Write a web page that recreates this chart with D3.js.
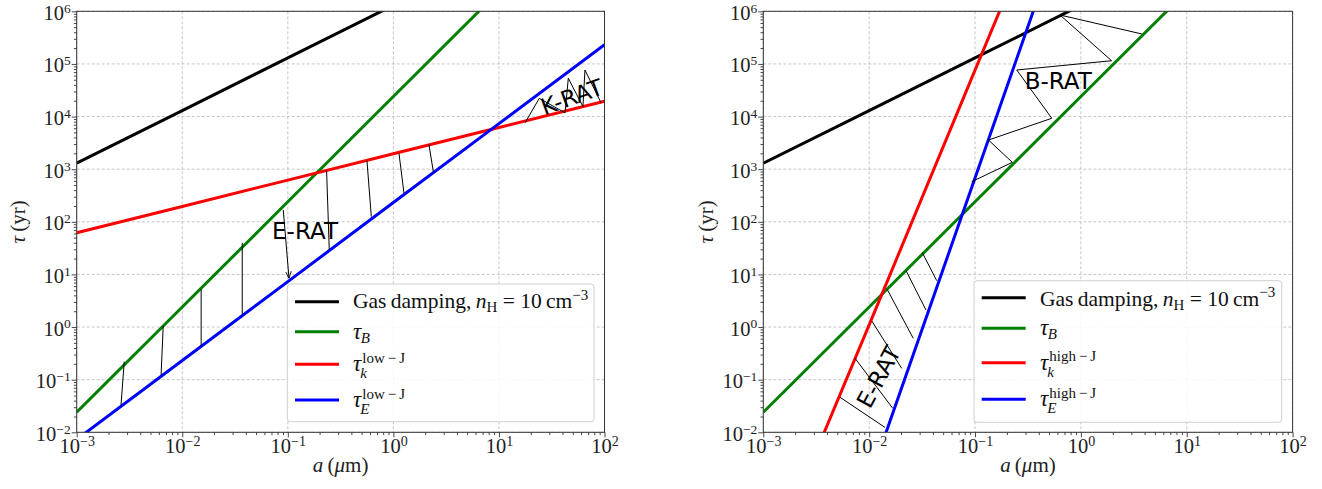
<!DOCTYPE html>
<html><head><meta charset="utf-8">
<script src="https://cdn.jsdelivr.net/npm/d3@7"></script>
<style>body{margin:0;background:#fff}</style>
</head><body><svg id="c" width="1322" height="489"></svg>
<script>
// ---------------- data ----------------
const xMajor = [1e-3, 1e-2, 1e-1, 1e0, 1e1, 1e2];
const xExp   = ['−3', '−2', '−1', '0', '1', '2'];
const yMajor = [1e-2, 1e-1, 1e0, 1e1, 1e2, 1e3, 1e4, 1e5, 1e6];
const yExp   = ['−2', '−1', '0', '1', '2', '3', '4', '5', '6'];

// grain sizes (um) at which the curves are sampled
const aLow  = [1e-3, 1e-2, 1e-1, 1, 10, 100];
const aHigh = [1e-3, 1e-2, 1e-1, 1];

// timescales (yr)
const gasTau   = [1.3e3, 1.3e4, 1.3e5, 1.3e6, 1.3e7, 1.3e8];
const tauB     = [2.4e-2, 2.4, 2.4e2, 2.4e4, 2.4e6, 2.4e8];
const tauKLow  = [62, 196, 620, 1960, 6200, 19600];
const tauELow  = [7.3e-3, 0.232, 7.3, 232, 7340, 2.32e5];
const tauKHigh = [1.7e-5, 1.1, 7.6e4, 5.1e9];
const tauEHigh = [2.0e-9, 1.2e-3, 680, 3.9e8];

// annotation strokes [a1, tau1, a2, tau2]
const eRatLeft = [
  [2.82e-3, 0.22, 2.63e-3, 0.033],
  [6.6e-3, 1.05, 6.3e-3, 0.123],
  [1.51e-2, 5.2, 1.51e-2, 0.44],
  [3.7e-2, 40, 3.7e-2, 1.7],
  [0.0906, 167, 0.1026, 8.4],
  [0.233, 935, 0.247, 29],
  [0.562, 1450, 0.618, 125],
  [1.13, 2000, 1.26, 348],
  [2.17, 2970, 2.39, 895]
];
const kRatLeft = [[17.7, 7640], [24.1, 22200], [42.3, 11800], [45.4, 53300], [62.5, 15500], [65.3, 76700], [92.7, 18300]];
const bRatRight = [[3.76, 3.71e5], [0.635, 8.5e5], [1.95, 1.15e5], [0.248, 7.67e4], [0.531, 9270], [0.134, 3580], [0.225, 1350], [0.0931, 578]];
const eRatRight = [
  [5.31e-3, 0.0462, 1.41e-2, 0.0124],
  [7.35e-3, 0.255, 1.67e-2, 0.0286],
  [1.06e-2, 1.30, 2.03e-2, 0.164],
  [1.48e-2, 5.2, 2.61e-2, 0.61],
  [2.23e-2, 11.8, 3.44e-2, 2.11],
  [3.18e-2, 25.9, 4.35e-2, 7.6]
];

const supLow = 'low\u2009−\u2009J';
const supHigh = 'high\u2009−\u2009J';

// ---------------- drawing ----------------
const svg = d3.select('#c');
const SERIF = "'Liberation Serif','DejaVu Serif',serif";
const SANS = "'DejaVu Sans',sans-serif";
const TOP = 11.3, BOT = 432.3;

const defs = svg.append('defs');
defs.append('marker').attr('id', 'arr').attr('viewBox', '0 0 10 10').attr('refX', 10).attr('refY', 5)
  .attr('markerWidth', 7).attr('markerHeight', 7).attr('orient', 'auto-start-reverse').attr('markerUnits', 'userSpaceOnUse')
  .append('path').attr('d', 'M0,1 L10,5 L0,9').attr('fill', 'none').attr('stroke', '#000').attr('stroke-width', 1.2);

function minorTicks(lo, hi) {
  const out = [];
  for (let k = lo; k < hi; k++) for (let m = 2; m <= 9; m++) out.push(m * Math.pow(10, k));
  return out;
}

function panel(cfg) {
  const x = d3.scaleLog().domain([1e-3, 1e2]).range([cfg.L, cfg.R]);
  const y = d3.scaleLog().domain([1e-2, 1e6]).range([BOT, TOP]);
  const g = svg.append('g');
  const cid = 'clip' + cfg.id;
  defs.append('clipPath').attr('id', cid).append('rect')
    .attr('x', cfg.L).attr('y', TOP).attr('width', cfg.R - cfg.L).attr('height', BOT - TOP);

  // grid
  const grid = g.append('g').attr('stroke', '#b8b8b8').attr('stroke-width', 0.8).attr('stroke-dasharray', '3,2');
  grid.selectAll('.gx').data(xMajor).join('line').attr('x1', d => x(d)).attr('x2', d => x(d)).attr('y1', TOP).attr('y2', BOT);
  grid.selectAll('.gy').data(yMajor).join('line').attr('y1', d => y(d)).attr('y2', d => y(d)).attr('x1', cfg.L).attr('x2', cfg.R);

  // axes
  const axCol = '#333';
  const bx = g.append('g').attr('transform', `translate(0,${BOT})`)
    .call(d3.axisBottom(x).tickValues(xMajor).tickSize(5).tickFormat(''));
  const bxm = g.append('g').attr('transform', `translate(0,${BOT})`)
    .call(d3.axisBottom(x).tickValues(minorTicks(-3, 2)).tickSize(2.8).tickFormat(''));
  const ly = g.append('g').attr('transform', `translate(${cfg.L},0)`)
    .call(d3.axisLeft(y).tickValues(yMajor).tickSize(5).tickFormat(''));
  const lym = g.append('g').attr('transform', `translate(${cfg.L},0)`)
    .call(d3.axisLeft(y).tickValues(minorTicks(-2, 6)).tickSize(2.8).tickFormat(''));
  [bx, bxm, ly, lym].forEach(a => {
    a.select('.domain').remove();
    a.selectAll('.tick text').remove();
    a.selectAll('.tick line').attr('stroke', axCol).attr('stroke-width', 0.9);
  });
  bx.selectAll('.tick').each(function (d, i) {
    const t = d3.select(this).append('text').attr('y', 21).attr('text-anchor', 'middle')
      .attr('font-family', SERIF).attr('font-size', 20.5).attr('fill', '#222');
    t.append('tspan').text('10');
    t.append('tspan').attr('dy', -7.5).attr('font-size', 14).text(xExp[i]);
  });
  ly.selectAll('.tick').each(function (d, i) {
    const t = d3.select(this).append('text').attr('x', -6).attr('y', 8).attr('text-anchor', 'end')
      .attr('font-family', SERIF).attr('font-size', 20.5).attr('fill', '#222');
    t.append('tspan').text('10');
    t.append('tspan').attr('dy', -7.1).attr('font-size', 13.5).text(yExp[i]);
  });

  // curves
  const line = d3.line().x(d => x(d[0])).y(d => y(d[1]));
  const cg = g.append('g').attr('clip-path', `url(#${cid})`);
  cfg.curves.forEach(c => {
    cg.append('path').datum(c.a.map((a, i) => [a, c.t[i]]))
      .attr('d', line).attr('fill', 'none').attr('stroke', c.color).attr('stroke-width', 3);
  });
  // hatch strokes
  cfg.segs.forEach((s, i) => {
    const l = cg.append('line').attr('x1', x(s[0])).attr('y1', y(s[1])).attr('x2', x(s[2])).attr('y2', y(s[3]))
      .attr('stroke', '#000').attr('stroke-width', 1);
    if (cfg.arrowSeg === i) l.attr('marker-end', 'url(#arr)');
  });
  if (cfg.zig) {
    cg.append('path').datum(cfg.zig).attr('d', line).attr('fill', 'none').attr('stroke', '#000').attr('stroke-width', 1);
  }

  // frame
  g.append('rect').attr('x', cfg.L).attr('y', TOP).attr('width', cfg.R - cfg.L).attr('height', BOT - TOP)
    .attr('fill', 'none').attr('stroke', axCol).attr('stroke-width', 1);

  // annotation labels
  cfg.labels.forEach(lb => {
    g.append('text').attr('transform', `translate(${lb.x},${lb.y}) rotate(${lb.rot})`)
      .attr('y', 8.4).attr('text-anchor', 'middle').attr('font-family', SANS).attr('font-size', 23)
      .attr('fill', '#000').text(lb.text);
  });

  // axis labels
  const yl = g.append('text').attr('transform', `translate(${cfg.yLabX},${(TOP + BOT) / 2}) rotate(-90)`)
    .attr('text-anchor', 'middle').attr('font-family', SERIF).attr('font-size', 21).attr('fill', '#222');
  yl.append('tspan').attr('font-style', 'italic').text('τ');
  yl.append('tspan').text('\u2009(yr)');
  const xl = g.append('text').attr('x', (cfg.L + cfg.R) / 2).attr('y', 472)
    .attr('text-anchor', 'middle').attr('font-family', SERIF).attr('font-size', 21).attr('fill', '#222');
  xl.append('tspan').attr('font-style', 'italic').text('a');
  xl.append('tspan').text('\u2009(');
  xl.append('tspan').attr('font-style', 'italic').text('μ');
  xl.append('tspan').text('m)');

  // legend
  const lg = cfg.legend;
  g.append('rect').attr('x', lg.x0).attr('y', lg.y0).attr('width', lg.x1 - lg.x0).attr('height', lg.y1 - lg.y0)
    .attr('rx', 3).attr('fill', '#fff').attr('fill-opacity', 0.85).attr('stroke', '#d0d0d0').attr('stroke-width', 1);
  lg.entries.forEach((e, i) => {
    const ry = lg.rows[i];
    g.append('line').attr('x1', lg.lx0).attr('x2', lg.lx1).attr('y1', ry).attr('y2', ry)
      .attr('stroke', e.color).attr('stroke-width', 3);
    const tg = g.append('g').attr('font-family', SERIF).attr('fill', '#111');
    if (e.gas) {
      const t = tg.append('text').attr('x', lg.tx).attr('y', ry + lg.gasOff).attr('font-size', 21.5);
      t.append('tspan').text('Gas\u2009damping,\u2009');
      t.append('tspan').attr('font-style', 'italic').text('n');
      t.append('tspan').attr('font-size', 15).attr('dy', 4).text('H');
      t.append('tspan').attr('dy', -4).text(' = 10\u2009cm');
      t.append('tspan').attr('font-size', 15).attr('dy', -8.5).text('−3');
    } else {
      const base = ry + 7;
      const tau = tg.append('text').attr('x', lg.tx).attr('y', base).attr('font-size', 23)
        .attr('font-style', 'italic').text('τ');
      const w = tau.node().getComputedTextLength();
      if (e.sup) {
        tg.append('text').attr('x', lg.tx + w + 1).attr('y', base - 8.5).attr('font-size', 15).text(e.sup);
        tg.append('text').attr('x', lg.tx + w - 1).attr('y', base + 7).attr('font-size', 15)
          .attr('font-style', 'italic').text(e.sub);
      } else {
        tg.append('text').attr('x', lg.tx + w - 0.5).attr('y', base + 4).attr('font-size', 15)
          .attr('font-style', 'italic').text(e.sub);
      }
    }
  });
}

panel({
  id: 'L', L: 76.7, R: 604.5, yLabX: 25,
  curves: [
    { a: aLow, t: gasTau, color: '#000' },
    { a: aLow, t: tauB, color: '#008000' },
    { a: aLow, t: tauKLow, color: '#ff0000' },
    { a: aLow, t: tauELow, color: '#0000ff' }
  ],
  segs: eRatLeft, arrowSeg: 4, zig: kRatLeft,
  labels: [
    { text: 'E-RAT', x: 305, y: 230.6, rot: 0 },
    { text: 'K-RAT', x: 571.7, y: 96.7, rot: -20 }
  ],
  legend: {
    x0: 287.3, x1: 594, y0: 284, y1: 421.7, lx0: 295, lx1: 339, tx: 353,
    rows: [301.7, 331.7, 364.3, 400], gasOff: 6.6,
    entries: [
      { gas: true, color: '#000' },
      { color: '#008000', sub: 'B' },
      { color: '#ff0000', sup: supLow, sub: 'k' },
      { color: '#0000ff', sup: supLow, sub: 'E' }
    ]
  }
});

panel({
  id: 'R', L: 763.3, R: 1292.6, yLabX: 713,
  curves: [
    { a: aLow, t: gasTau, color: '#000' },
    { a: aLow, t: tauB, color: '#008000' },
    { a: aHigh, t: tauKHigh, color: '#ff0000' },
    { a: aHigh, t: tauEHigh, color: '#0000ff' }
  ],
  segs: eRatRight, arrowSeg: -1, zig: bRatRight,
  labels: [
    { text: 'B-RAT', x: 1058.3, y: 80.3, rot: 0 },
    { text: 'E-RAT', x: 878.3, y: 376.7, rot: -61.6 }
  ],
  legend: {
    x0: 974, x1: 1281.7, y0: 280.7, y1: 422.3, lx0: 981.7, lx1: 1025.7, tx: 1040,
    rows: [297.7, 328.3, 362.7, 399.3], gasOff: 8,
    entries: [
      { gas: true, color: '#000' },
      { color: '#008000', sub: 'B' },
      { color: '#ff0000', sup: supHigh, sub: 'k' },
      { color: '#0000ff', sup: supHigh, sub: 'E' }
    ]
  }
});
</script></body></html>
